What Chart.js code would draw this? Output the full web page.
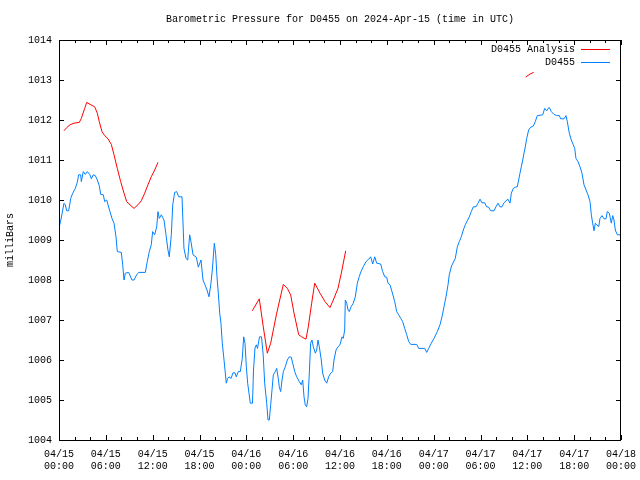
<!DOCTYPE html>
<html>
<head>
<meta charset="utf-8">
<script src="https://cdn.jsdelivr.net/npm/chart.js@4.4.1/dist/chart.umd.min.js"></script>
<style>
  html, body { margin: 0; padding: 0; background: #fff; }
  #wrap { width: 640px; height: 480px; }
</style>
</head>
<body>
<div id="wrap"><canvas id="c" width="640" height="480"></canvas></div>
<script>
const chartTitle = "Barometric Pressure for D0455 on 2024-Apr-15 (time in UTC)";
const yAxisTitle = "milliBars";
const seriesNames = ["D0455 Analysis", "D0455"];
const startDay = 15;
const monthLabel = "04";

// hours since 2024-04-15 00:00 UTC
const pressureHours = [0.00,0.29,0.64,0.81,0.99,1.24,1.50,1.76,2.09,2.34,2.52,2.78,2.86,3.11,3.37,3.63,3.97,4.14,4.39,4.65,4.91,5.16,5.34,5.68,5.85,6.11,6.28,6.53,6.79,7.05,7.30,7.47,7.98,8.16,8.33,8.49,8.93,9.35,9.61,9.95,10.21,11.06,11.31,11.57,11.82,12.00,12.26,12.52,12.68,12.85,13.11,13.45,13.71,13.96,14.13,14.39,14.57,14.82,15.08,15.34,15.76,16.01,16.27,16.49,16.57,16.74,16.91,17.17,17.59,17.85,18.19,18.45,18.70,18.96,19.22,19.47,19.64,19.90,20.08,20.24,20.41,20.59,20.75,20.92,21.10,21.27,21.43,21.61,21.78,22.04,22.29,22.55,22.71,22.97,23.23,23.48,23.66,23.83,24.00,24.17,24.34,24.51,24.79,24.92,25.11,25.28,25.43,25.69,25.94,26.16,26.35,26.61,26.78,26.94,27.12,27.29,27.46,27.71,27.89,28.06,28.22,28.40,28.57,28.74,28.99,29.25,29.50,29.76,29.94,30.20,30.45,30.79,31.04,31.22,31.39,31.55,31.73,31.90,32.07,32.24,32.41,32.58,32.84,33.01,33.18,33.35,33.60,33.78,34.04,34.30,34.55,34.81,35.06,35.23,35.49,35.74,36.00,36.26,36.42,36.60,36.68,36.86,37.03,37.19,37.41,37.70,37.96,38.22,38.47,38.73,38.98,39.33,39.68,39.93,40.19,40.45,40.70,41.21,41.47,41.73,41.98,42.15,42.41,42.66,43.01,43.26,43.52,43.78,44.03,44.29,44.55,44.80,45.06,45.83,46.08,46.85,47.11,47.36,47.70,48.04,48.47,48.81,49.07,49.32,49.58,49.84,50.00,50.29,50.77,51.03,51.28,51.54,51.80,52.05,52.31,52.57,52.82,53.08,53.42,53.68,53.94,54.19,54.54,54.79,55.05,55.31,55.73,55.98,56.24,56.50,56.75,57.01,57.27,57.52,57.78,57.95,58.20,58.46,58.71,58.89,59.06,59.23,59.41,59.57,59.74,59.92,60.17,60.43,60.77,61.02,61.28,61.97,62.22,62.48,62.65,62.82,63.07,63.42,63.76,64.10,64.27,64.70,64.95,65.12,65.38,65.63,65.89,66.07,66.23,66.49,66.75,67.00,67.26,67.52,67.77,68.03,68.20,68.37,68.54,68.71,68.89,69.14,69.31,69.57,69.82,70.08,70.24,70.50,70.76,70.94,71.10,71.27,71.53,71.87];
const pressureMbar = [1009.30,1009.55,1009.92,1009.88,1009.73,1009.73,1010.04,1010.17,1010.29,1010.44,1010.63,1010.63,1010.46,1010.71,1010.64,1010.71,1010.63,1010.53,1010.63,1010.61,1010.50,1010.36,1010.14,1010.13,1009.96,1010.00,1009.88,1009.71,1009.54,1009.42,1009.08,1008.71,1008.69,1008.38,1008.00,1008.17,1008.19,1008.00,1008.00,1008.13,1008.19,1008.19,1008.46,1008.71,1008.88,1009.21,1009.13,1009.33,1009.71,1009.54,1009.63,1009.50,1009.13,1008.75,1008.58,1009.13,1009.88,1010.19,1010.21,1010.08,1010.08,1008.79,1008.54,1008.50,1008.71,1009.13,1008.96,1008.63,1008.57,1008.32,1008.50,1008.00,1007.88,1007.75,1007.58,1007.92,1008.25,1008.92,1008.63,1008.08,1007.67,1007.17,1006.92,1006.42,1006.08,1005.75,1005.42,1005.54,1005.58,1005.54,1005.68,1005.68,1005.58,1005.71,1005.71,1006.04,1006.58,1006.42,1005.83,1005.42,1005.17,1004.92,1004.92,1005.75,1006.30,1006.38,1006.29,1006.58,1006.58,1006.13,1005.42,1004.92,1004.50,1004.50,1004.88,1005.25,1005.63,1005.71,1005.79,1005.58,1005.33,1005.21,1005.50,1005.71,1005.83,1006.00,1006.08,1006.07,1005.92,1005.71,1005.58,1005.46,1005.38,1005.50,1005.08,1004.88,1004.83,1005.04,1005.67,1006.42,1006.50,1006.33,1006.17,1006.25,1006.50,1006.33,1006.00,1005.67,1005.50,1005.42,1005.58,1005.67,1005.71,1006.00,1006.25,1006.33,1006.38,1006.58,1006.54,1006.75,1007.50,1007.42,1007.25,1007.21,1007.33,1007.42,1007.58,1007.92,1008.09,1008.23,1008.33,1008.46,1008.52,1008.58,1008.40,1008.58,1008.42,1008.40,1008.21,1008.08,1008.07,1007.92,1007.88,1007.71,1007.46,1007.21,1007.13,1007.04,1006.96,1006.79,1006.63,1006.46,1006.39,1006.39,1006.29,1006.29,1006.19,1006.29,1006.42,1006.54,1006.71,1006.88,1007.08,1007.33,1007.58,1007.88,1008.13,1008.35,1008.54,1008.83,1008.96,1009.08,1009.25,1009.38,1009.48,1009.58,1009.71,1009.83,1009.83,1009.92,1010.02,1009.93,1009.93,1009.83,1009.82,1009.73,1009.73,1009.83,1009.92,1009.83,1009.83,1009.93,1009.98,1010.02,1009.92,1010.17,1010.29,1010.32,1010.33,1010.50,1010.67,1010.83,1011.00,1011.17,1011.33,1011.54,1011.75,1011.82,1011.85,1011.96,1012.11,1012.13,1012.29,1012.23,1012.29,1012.31,1012.21,1012.14,1012.11,1012.11,1012.03,1012.03,1012.11,1011.96,1011.67,1011.50,1011.38,1011.29,1011.04,1010.96,1010.83,1010.67,1010.38,1010.25,1010.13,1009.96,1009.63,1009.42,1009.23,1009.42,1009.38,1009.33,1009.54,1009.61,1009.53,1009.53,1009.71,1009.67,1009.42,1009.61,1009.50,1009.25,1009.13,1009.13];

// analysis series; null marks a gap between segments
const analysisHours = [0.64,0.99,1.41,1.92,2.60,2.86,3.29,3.55,3.97,4.57,4.91,5.16,5.51,5.85,6.28,6.70,7.05,7.47,7.90,8.33,8.67,9.10,9.61,10.12,10.54,10.98,11.40,11.82,12.26,12.68,18.0,24.76,25.66,26.17,26.69,27.12,27.89,28.74,29.25,29.68,30.11,30.71,31.09,31.64,31.94,32.37,32.76,33.44,34.08,34.72,35.14,35.74,36.17,36.73,48.0,59.79,60.34,60.82];
const analysisMbar = [1011.73,1011.81,1011.88,1011.92,1011.94,1012.04,1012.29,1012.44,1012.39,1012.33,1012.17,1011.96,1011.71,1011.61,1011.53,1011.39,1011.13,1010.79,1010.46,1010.17,1009.96,1009.88,1009.79,1009.88,1009.98,1010.17,1010.38,1010.58,1010.75,1010.94,null,1007.23,1007.53,1006.83,1006.17,1006.42,1007.17,1007.89,1007.79,1007.63,1007.17,1006.63,1006.58,1006.52,1006.83,1007.42,1007.92,1007.67,1007.46,1007.31,1007.50,1007.79,1008.17,1008.73,null,1013.07,1013.15,1013.19];

const xMin = 0, xMax = 72, xMajorStep = 6, xMinorStep = 2;
const yMin = 1004, yMax = 1014, yStep = 1;

const FONT = "'Liberation Mono', 'DejaVu Sans Mono', monospace";
Chart.defaults.color = '#000';
Chart.defaults.font.family = FONT;
Chart.defaults.font.size = 10;

function pad2(n) { return (n < 10 ? '0' : '') + n; }

const framePlugin = {
  id: 'frame',
  afterDatasetsDraw(chart) {
    const ctx = chart.ctx, a = chart.chartArea;
    const xs = chart.scales.x, ys = chart.scales.y;
    ctx.save();
    ctx.strokeStyle = '#000';
    ctx.lineWidth = 1;
    ctx.beginPath();
    for (let h = xMin; h <= xMax; h += xMinorStep) {
      const px = Math.round(xs.getPixelForValue(h)) + 0.5;
      const len = (h % xMajorStep === 0) ? 5 : 3;
      ctx.moveTo(px, a.bottom); ctx.lineTo(px, a.bottom - len);
      ctx.moveTo(px, a.top); ctx.lineTo(px, a.top + len);
    }
    for (let v = yMin; v <= yMax; v += yStep) {
      const py = Math.round(ys.getPixelForValue(v)) + 0.5;
      ctx.moveTo(a.left, py); ctx.lineTo(a.left + 5, py);
      ctx.moveTo(a.right, py); ctx.lineTo(a.right - 5, py);
    }
    ctx.stroke();
    ctx.strokeRect(Math.round(a.left) + 0.5, Math.round(a.top) + 0.5,
                   Math.round(a.right - a.left) - 1, Math.round(a.bottom - a.top));
    // title
    ctx.fillStyle = '#000';
    ctx.font = '10px ' + FONT;
    ctx.textAlign = 'center';
    ctx.textBaseline = 'middle';
    ctx.fillText(chartTitle, (a.left + a.right) / 2, 19);
    // legend (text then line sample, gnuplot style)
    const colors = chart.data.datasets.map(d => d.borderColor);
    ctx.textAlign = 'right';
    const rows = [49.5, 62.5];
    chart.data.datasets.forEach((d, i) => {
      ctx.fillStyle = '#000';
      ctx.fillText(d.label, 575, rows[i]);
      ctx.strokeStyle = colors[i];
      ctx.beginPath();
      ctx.moveTo(581, rows[i]); ctx.lineTo(610, rows[i]);
      ctx.stroke();
    });
    ctx.restore();
  }
};

const ctx = document.getElementById('c').getContext('2d');
new Chart(ctx, {
  type: 'line',
  data: {
    datasets: [
      {
        label: seriesNames[0],
        data: analysisHours.map((h, i) => ({ x: h, y: analysisMbar[i] })),
        borderColor: '#ff0000',
        borderWidth: 1,
        pointRadius: 0,
        tension: 0,
        spanGaps: false,
        fill: false
      },
      {
        label: seriesNames[1],
        data: pressureHours.map((h, i) => ({ x: h, y: pressureMbar[i] })),
        borderColor: '#0080ff',
        borderWidth: 1,
        pointRadius: 0,
        tension: 0,
        fill: false
      }
    ]
  },
  options: {
    responsive: false,
    animation: false,
    layout: { padding: { top: 40, right: 19, left: 0, bottom: 0 } },
    plugins: {
      legend: { display: false },
      title: { display: false },
      tooltip: { enabled: false }
    },
    scales: {
      x: {
        type: 'linear',
        min: xMin, max: xMax,
        grid: { display: false, drawTicks: false },
        border: { display: false },
        ticks: {
          stepSize: xMajorStep,
          autoSkip: false,
          maxRotation: 0, minRotation: 0,
          padding: 8,
          font: { size: 10, lineHeight: 1.25 },
          callback: (v) => {
            const day = startDay + Math.floor(v / 24);
            const hr = v % 24;
            return [monthLabel + '/' + day, pad2(hr) + ':00'];
          }
        },
        afterFit: (s) => { s.height = 40; s.paddingRight = 0; s.paddingLeft = 0; }
      },
      y: {
        min: yMin, max: yMax,
        grid: { display: false, drawTicks: false },
        border: { display: false },
        ticks: { stepSize: yStep, padding: 7, font: { size: 10 }, callback: (v) => String(v) },
        title: { display: true, text: yAxisTitle, padding: { top: 4, bottom: 0 }, font: { size: 10 } },
        afterFit: (s) => { s.width = 59; }
      }
    }
  },
  plugins: [framePlugin]
});
</script>
</body>
</html>
